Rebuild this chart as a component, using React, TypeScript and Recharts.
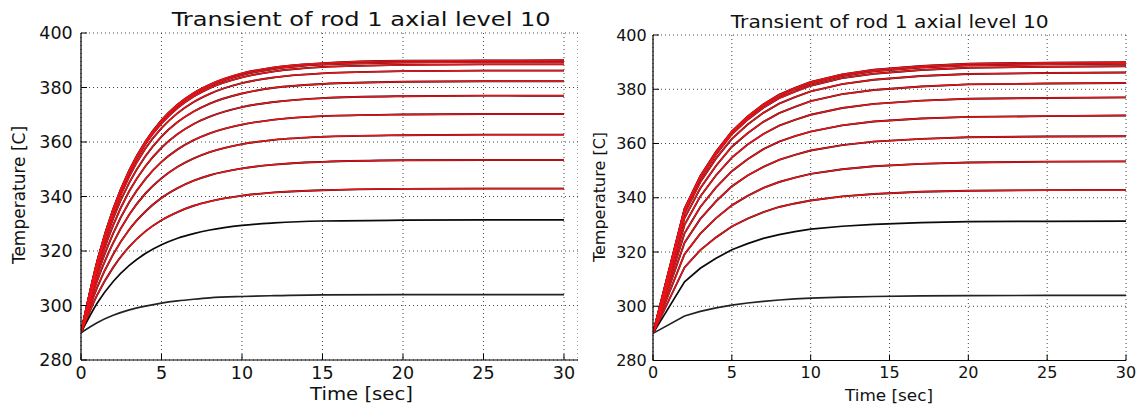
import { CartesianGrid, Line, LineChart, XAxis, YAxis } from "recharts"

const font = "DejaVu Sans"

const xTicks = [0, 5, 10, 15, 20, 25, 30]
const yTicks = [280, 300, 320, 340, 360, 380, 400]
const titleText = "Transient of rod 1 axial level 10"
const xLabel = "Time [sec]"
const yLabel = "Temperature [C]"

// left panel: time [s] and temperatures of each node [C]
const leftTime = [0, 1, 2, 3, 4, 5, 6, 7, 8, 10, 12, 15, 20, 25, 30]
const leftCurves = [
  [290, 316.1, 335.5, 349.7, 360.2, 368.0, 373.8, 378.0, 381.1, 385.2, 387.4, 388.9, 389.8, 389.9, 390.0],
  [290, 316.0, 335.2, 349.4, 359.8, 367.6, 373.3, 377.5, 380.6, 384.6, 386.8, 388.4, 389.2, 389.4, 389.4],
  [290, 315.7, 334.8, 348.8, 359.2, 366.8, 372.5, 376.7, 379.8, 383.7, 385.9, 387.5, 388.3, 388.5, 388.5],
  [290, 315.2, 333.7, 347.4, 357.6, 365.1, 370.6, 374.7, 377.7, 381.6, 383.7, 385.2, 386.0, 386.2, 386.2],
  [290, 314.1, 332.0, 345.1, 354.8, 362.0, 367.3, 371.2, 374.1, 377.8, 379.9, 381.3, 382.1, 382.3, 382.3],
  [290, 312.7, 329.5, 342.0, 351.1, 357.9, 362.9, 366.6, 369.3, 372.8, 374.7, 376.1, 376.8, 377.0, 377.0],
  [290, 311.0, 326.5, 338.0, 346.4, 352.7, 357.3, 360.7, 363.2, 366.4, 368.2, 369.5, 370.1, 370.3, 370.3],
  [290, 309.0, 323.0, 333.4, 341.1, 346.7, 350.9, 354.0, 356.3, 359.2, 360.8, 361.9, 362.5, 362.7, 362.7],
  [290, 306.6, 318.8, 327.9, 334.5, 339.5, 343.1, 345.8, 347.8, 350.3, 351.7, 352.7, 353.3, 353.4, 353.4],
  [290, 303.8, 314.0, 321.6, 327.2, 331.3, 334.3, 336.6, 338.2, 340.3, 341.5, 342.3, 342.8, 342.9, 342.9],
  [290, 300.8, 308.8, 314.7, 319.1, 322.3, 324.7, 326.4, 327.7, 329.4, 330.3, 331.0, 331.3, 331.4, 331.4],
  [290, 293.7, 296.4, 298.4, 299.8, 300.9, 301.7, 302.3, 302.8, 303.3, 303.6, 303.9, 304.0, 304.0, 304.0],
]

// right panel: coarser output at the start
const rightTime = [0, 2, 3, 4, 5, 6, 7, 8, 9, 10, 12, 14, 17, 20, 25, 30]
const rightCurves = [
  [290, 336.0, 348.0, 357.0, 364.5, 370.0, 374.5, 378.0, 380.5, 382.7, 385.5, 387.2, 388.6, 389.4, 389.8, 390.0],
  [290, 335.7, 347.7, 356.6, 364.1, 369.5, 374.0, 377.5, 380.0, 382.1, 384.9, 386.6, 388.0, 388.8, 389.2, 389.4],
  [290, 335.3, 347.1, 356.0, 363.4, 368.8, 373.2, 376.7, 379.1, 381.3, 384.1, 385.7, 387.1, 387.9, 388.3, 388.5],
  [290, 334.3, 345.8, 354.5, 361.7, 367.0, 371.3, 374.7, 377.1, 379.2, 381.9, 383.5, 384.9, 385.6, 386.0, 386.2],
  [290, 332.5, 343.5, 351.8, 358.8, 363.8, 368.0, 371.2, 373.5, 375.6, 378.2, 379.7, 381.0, 381.8, 382.1, 382.3],
  [290, 330.0, 340.5, 348.3, 354.8, 359.6, 363.5, 366.6, 368.7, 370.6, 373.1, 374.6, 375.8, 376.5, 376.8, 377.0],
  [290, 326.9, 336.6, 343.8, 349.8, 354.2, 357.9, 360.7, 362.7, 364.4, 366.7, 368.1, 369.2, 369.8, 370.1, 370.3],
  [290, 323.4, 332.2, 338.7, 344.2, 348.2, 351.4, 354.0, 355.8, 357.4, 359.4, 360.7, 361.7, 362.3, 362.6, 362.7],
  [290, 319.2, 326.8, 332.5, 337.2, 340.7, 343.6, 345.8, 347.4, 348.8, 350.5, 351.6, 352.5, 353.0, 353.3, 353.4],
  [290, 314.3, 320.7, 325.4, 329.4, 332.3, 334.7, 336.6, 337.9, 339.0, 340.5, 341.4, 342.2, 342.6, 342.8, 342.9],
  [290, 309.0, 314.0, 317.7, 320.8, 323.1, 325.0, 326.4, 327.5, 328.4, 329.5, 330.2, 330.8, 331.2, 331.3, 331.4],
  [290, 296.4, 298.1, 299.4, 300.4, 301.2, 301.8, 302.3, 302.7, 303.0, 303.4, 303.6, 303.8, 303.9, 304.0, 304.0],
]

// first 10 nodes have a red overlay, the last two are black only
const redCount = 10
const blackColors = ["#111", "#111", "#111", "#111", "#111", "#111", "#111", "#111", "#111", "#111", "#0a0a0a", "#222"]

function buildRows(time: number[], curves: number[][]) {
  return time.map((t, i) => {
    const row: Record<string, number> = { t }
    curves.forEach((c, k) => {
      row["c" + k] = c[i]
    })
    return row
  })
}

const leftData = buildRows(leftTime, leftCurves)
const rightData = buildRows(rightTime, rightCurves)

function renderLines(count: number, curveType: "monotone" | "linear") {
  const lines = []
  for (let k = 0; k < count; k++) {
    lines.push(
      <Line
        key={"b" + k}
        dataKey={"c" + k}
        type={curveType}
        stroke={blackColors[k]}
        strokeWidth={k < redCount ? 1.9 : 1.7}
        dot={false}
        activeDot={false}
        isAnimationActive={false}
      />
    )
  }
  for (let k = 0; k < redCount; k++) {
    lines.push(
      <Line
        key={"r" + k}
        dataKey={"c" + k}
        type={curveType}
        stroke="#ec1218"
        strokeWidth={1.5}
        dot={false}
        activeDot={false}
        isAnimationActive={false}
      />
    )
  }
  return lines
}

function Panel(props: {
  data: Record<string, number>[]
  width: number
  top: number
  right: number
  yAxisWidth: number
  xAxisHeight: number
  xMax: number
  fontSize: number
  xTickMargin: number
  yTickMargin: number
  rightBorder: boolean
  curveType: "monotone" | "linear"
}) {
  const tickStyle = { fontSize: props.fontSize, fill: "#111", fontFamily: font }
  return (
    <LineChart
      width={props.width}
      height={406}
      data={props.data}
      margin={{ top: props.top, right: props.right, bottom: 0, left: 0 }}
    >
      <CartesianGrid stroke="#333" strokeDasharray="1 3" strokeWidth={0.9} />
      <XAxis
        dataKey="t"
        type="number"
        domain={[0, props.xMax]}
        ticks={xTicks}
        allowDataOverflow
        height={props.xAxisHeight}
        tickSize={-6}
        tickMargin={props.xTickMargin}
        tick={tickStyle}
        axisLine={{ stroke: "#000", strokeWidth: 1.2 }}
        tickLine={{ stroke: "#000" }}
      />
      <XAxis
        xAxisId="top"
        orientation="top"
        type="number"
        domain={[0, props.xMax]}
        ticks={xTicks}
        allowDataOverflow
        height={0}
        tickSize={-6}
        tick={false}
        axisLine={{ stroke: "#000", strokeWidth: 1.2 }}
        tickLine={{ stroke: "#000" }}
      />
      <YAxis
        type="number"
        domain={[280, 400]}
        ticks={yTicks}
        width={props.yAxisWidth}
        tickSize={-6}
        tickMargin={props.yTickMargin}
        tick={tickStyle}
        axisLine={{ stroke: "#000", strokeWidth: 1.2 }}
        tickLine={{ stroke: "#000" }}
      />
      {props.rightBorder && (
        <YAxis
          yAxisId="right"
          orientation="right"
          type="number"
          domain={[280, 400]}
          ticks={yTicks}
          width={0}
          tickSize={-6}
          tick={false}
          axisLine={{ stroke: "#000", strokeWidth: 1.2 }}
          tickLine={{ stroke: "#000" }}
        />
      )}
      {renderLines(leftCurves.length, props.curveType)}
    </LineChart>
  )
}

export default function App() {
  return (
    <div style={{ position: "absolute", left: 0, top: 0, width: 1138, height: 406, background: "#fff", overflow: "hidden" }}>
      <div style={{ position: "absolute", left: 0, top: 0 }}>
        <Panel
          data={leftData}
          width={578}
          top={33}
          right={0}
          yAxisWidth={81}
          xAxisHeight={46}
          xMax={30.87}
          fontSize={17.5}
          xTickMargin={12.7}
          yTickMargin={14.3}
          rightBorder={false}
          curveType="monotone"
        />
      </div>
      <div style={{ position: "absolute", left: 578, top: 0 }}>
        <Panel
          data={rightData}
          width={560}
          top={35}
          right={12}
          yAxisWidth={75}
          xAxisHeight={45.5}
          xMax={30}
          fontSize={16}
          xTickMargin={12.2}
          yTickMargin={12.3}
          rightBorder={true}
          curveType="linear"
        />
      </div>
      <svg
        width={1138}
        height={406}
        style={{ position: "absolute", left: 0, top: 0, pointerEvents: "none" }}
        fontFamily={font}
        fill="#111"
      >
        <text x={171.7} y={26} fontSize={20} textLength={379} lengthAdjust="spacingAndGlyphs">
          {titleText}
        </text>
        <text x={730.7} y={28.3} fontSize={18.5} textLength={318} lengthAdjust="spacingAndGlyphs">
          {titleText}
        </text>
        <text transform="translate(25,195) rotate(-90)" textAnchor="middle" fontSize={17}>
          {yLabel}
        </text>
        <text transform="translate(605,197) rotate(-90)" textAnchor="middle" fontSize={16}>
          {yLabel}
        </text>
        <text x={310} y={400} fontSize={18.5} textLength={103} lengthAdjust="spacingAndGlyphs">
          {xLabel}
        </text>
        <text x={845} y={401.3} fontSize={16.5} textLength={88} lengthAdjust="spacingAndGlyphs">
          {xLabel}
        </text>
      </svg>
    </div>
  )
}
